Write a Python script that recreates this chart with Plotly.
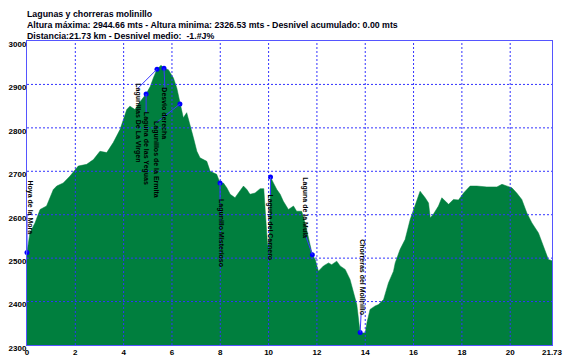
import plotly.graph_objects as go

# ---------------- data ----------------
title_lines = [
    "Lagunas y chorreras molinillo",
    "Altura máxima: 2944.66 mts - Altura minima: 2326.53 mts - Desnivel acumulado: 0.00 mts",
    "Distancia:21.73 km - Desnivel medio:  -1.#J%",
]

dist_km = [0.00, 0.12, 0.33, 0.54, 0.81, 1.09, 1.23, 1.50, 1.78, 2.12, 2.47, 2.75, 3.02, 3.30,
           3.57, 3.85, 4.13, 4.26, 4.47, 4.68, 4.93, 5.10, 5.23, 5.38, 5.55, 5.67, 5.85, 6.06,
           6.20, 6.33, 6.47, 6.61, 6.75, 6.89, 7.03, 7.16, 7.44, 7.58, 7.85, 7.99, 8.13, 8.27,
           8.41, 8.61, 8.75, 8.96, 9.10, 9.23, 9.44, 9.65, 9.80, 9.96, 10.03, 10.08, 10.20,
           10.34, 10.48, 10.61, 10.82, 11.03, 11.16, 11.37, 11.51, 11.65, 11.81, 11.93, 12.06,
           12.27, 12.48, 12.61, 12.82, 12.96, 13.17, 13.37, 13.51, 13.65, 13.79, 14.00, 14.07,
           14.20, 14.41, 14.55, 14.76, 14.96, 15.17, 15.24, 15.44, 15.65, 15.86, 16.00, 16.27,
           16.48, 16.62, 16.69, 16.82, 17.03, 17.17, 17.45, 17.65, 17.86, 18.07, 18.34, 18.62,
           19.03, 19.45, 19.66, 19.86, 20.07, 20.27, 20.48, 20.69, 20.90, 21.17, 21.38, 21.58,
           21.73]
elev_m = [2513, 2558, 2581, 2612, 2620, 2658, 2666, 2673, 2689, 2712, 2716, 2727, 2746, 2743,
          2766, 2796, 2842, 2850, 2842, 2860, 2878, 2895, 2915, 2935, 2944, 2937, 2934, 2915,
          2892, 2855, 2823, 2835, 2808, 2777, 2746, 2731, 2723, 2700, 2693, 2673, 2673, 2662,
          2647, 2639, 2650, 2666, 2658, 2647, 2650, 2660, 2660, 2528, 2540, 2687, 2673,
          2658, 2647, 2631, 2612, 2620, 2608, 2608, 2581, 2543, 2508, 2497, 2470,
          2482, 2489, 2485, 2493, 2482, 2474, 2451, 2420, 2393, 2327, 2328, 2351,
          2382, 2390, 2393, 2405, 2443, 2470, 2489, 2520, 2543, 2589, 2612, 2654,
          2639, 2627, 2593, 2601, 2620, 2639, 2624, 2635, 2634, 2650, 2666, 2666,
          2664, 2664, 2670, 2666, 2662, 2650, 2635, 2604, 2581, 2558, 2528, 2497,
          2494]

wp_names = ["Hoya de la Mora", "Laguna de las Yeguas", "Lagunillas De La Virgen", "Desvio derecha",
            "Lagunillos de la Ermita", "Lagunillo Misterioso", "Laguna del Carnero",
            "Laguna de la Mula", "Chorreras del Molinillo"]
wp_km = [0.00, 4.93, 5.38, 5.67, 6.33, 7.99, 10.08, 11.81, 13.79]
wp_elev = [2513, 2878, 2935, 2937, 2855, 2673, 2687, 2508, 2329]

x_tickvals = [0, 2, 4, 6, 8, 10, 12, 14, 16, 18, 20, 21.73]
x_ticktext = ["0", "2", "4", "6", "8", "10", "12", "14", "16", "18", "20", "21.73"]
y_tickvals = [2300, 2400, 2500, 2600, 2700, 2800, 2900, 3000]

# ---------------- layout params (screen pixels, y downwards) ----------------
label_offsets = [(3, -45), (0, 54), (-19, 54), (1, 45), (-24, 56), (1, 50), (0, 50), (-7, -47), (2, -55)]
leader_ends = [(0, -38), (0, 19), (-19, 19), (1, 21), (-24, 19), (0, 18), (0, 18), (-7, -20), (1, -20)]

FILL = "#007f3e"
GRID = "#3333ff"
AXIS = "#5555ff"
LEADER = "#3a3aff"
FONT = "Liberation Sans"

fig = go.Figure()
fig.add_trace(go.Scatter(x=dist_km, y=elev_m, mode="lines", fill="tozeroy",
                         line=dict(color=FILL, width=0.5), fillcolor=FILL,
                         hoverinfo="skip", showlegend=False))
fig.add_trace(go.Scatter(x=wp_km, y=wp_elev, mode="markers",
                         marker=dict(color="#0000ff", size=5), showlegend=False,
                         cliponaxis=False))

shapes = []
for xv in x_tickvals[1:-1]:
    shapes.append(dict(type="line", xref="x", yref="paper", x0=xv, x1=xv, y0=0, y1=1,
                       line=dict(color=GRID, width=1, dash="2px,2px"), layer="above"))
for yv in y_tickvals[1:-1]:
    shapes.append(dict(type="line", xref="paper", yref="y", x0=0, x1=1, y0=yv, y1=yv,
                       line=dict(color=GRID, width=1, dash="2px,2px"), layer="above"))
for xk, ye, (dx, dy) in zip(wp_km, wp_elev, leader_ends):
    shapes.append(dict(type="line", xref="x", yref="y", xsizemode="pixel", ysizemode="pixel",
                       xanchor=xk, yanchor=ye, x0=0, y0=0, x1=dx, y1=-dy,
                       line=dict(color=LEADER, width=1), layer="above"))

annotations = []
for name, xk, ye, (ax, ay) in zip(wp_names, wp_km, wp_elev, label_offsets):
    annotations.append(dict(x=xk, y=ye, xref="x", yref="y", text=name, textangle=90,
                            showarrow=False, xanchor="center", yanchor="middle",
                            xshift=ax, yshift=-ay,
                            font=dict(family=FONT, size=7, color="black", weight="bold"),
                            borderpad=0))
title_shifts = [27.5, 16, 5.5]
for txt, ys in zip(title_lines, title_shifts):
    annotations.append(dict(x=0, y=1, xref="paper", yref="paper", xanchor="left", yanchor="middle",
                            xshift=-2, yshift=ys, text=txt, showarrow=False,
                            font=dict(family=FONT, size=8.8, color="#000010", weight="bold")))

fig.update_layout(
    width=566, height=359,
    margin=dict(l=27, r=14, t=41, b=14, pad=0),
    paper_bgcolor="white", plot_bgcolor="white",
    shapes=shapes, annotations=annotations,
    xaxis=dict(range=[0, 21.73], tickvals=x_tickvals, ticktext=x_ticktext, automargin=False,
               showgrid=False, zeroline=False, showline=True, linecolor=AXIS, linewidth=1,
               mirror=True, ticks="", tickfont=dict(family=FONT, size=8, color="black", weight="bold"),
               ticklabelstandoff=-1),
    yaxis=dict(range=[2300, 3000], tickvals=y_tickvals, automargin=False,
               showgrid=False, zeroline=False, showline=True, linecolor=AXIS, linewidth=1,
               mirror=True, ticks="", tickfont=dict(family=FONT, size=8, color="black", weight="bold"),
               ticklabelshift=3, ticklabelstandoff=-2),
)

fig.write_html("out.html", config={"displayModeBar": False},
               post_script="document.body.style.margin='0px';")
